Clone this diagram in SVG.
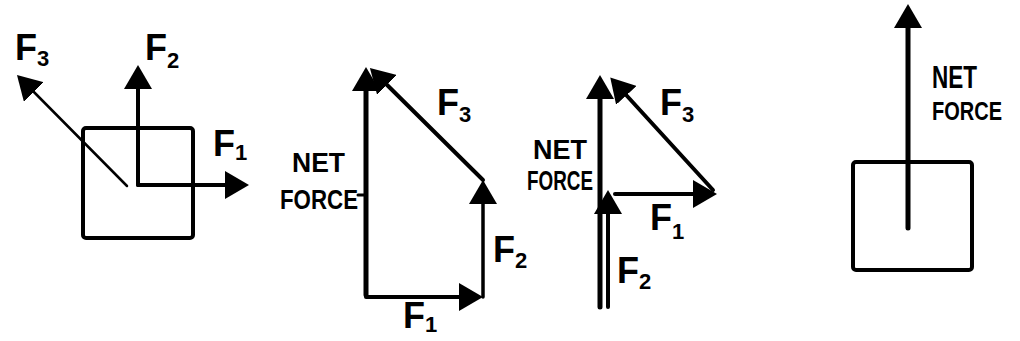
<svg xmlns="http://www.w3.org/2000/svg" width="1020" height="341" viewBox="0 0 1020 341">
<style>
.ln{stroke:#000;fill:none;stroke-linecap:round}
.box{stroke:#000;fill:none;stroke-width:4}
.lbl{font-family:"Liberation Sans",Arial,sans-serif;font-weight:bold;fill:#000}
.f{font-size:36px}
.sub{font-size:22px}
.nf{font-family:"Liberation Sans",Arial,sans-serif;fill:#000;font-size:27px;font-weight:bold}
</style>
<defs>
<marker id="head" viewBox="0 0 24 28" refX="14" refY="14" markerWidth="24" markerHeight="28" markerUnits="userSpaceOnUse" orient="auto">
<path d="M0,0 L24,14 L0,28 Z" fill="#000"/>
</marker>
</defs>
<rect width="1020" height="341" fill="#fff"/>

<g id="panel1-box"><rect class="box" x="83" y="128" width="110" height="110" rx="3"/></g>
<g id="panel4-box"><rect class="box" x="853" y="162" width="119" height="108" rx="3"/></g>

<g id="connectors">
<line class="ln" x1="138" y1="185" x2="138" y2="75" stroke-width="4" marker-end="url(#head)"/>
<line class="ln" x1="138" y1="185" x2="239" y2="185" stroke-width="4" marker-end="url(#head)"/>
<line class="ln" x1="127" y1="186" x2="24" y2="82" stroke-width="2.5" marker-end="url(#head)"/>

<line class="ln" x1="366" y1="295" x2="366" y2="77" stroke-width="5" marker-end="url(#head)"/>
<line class="ln" x1="366" y1="297" x2="473" y2="297" stroke-width="4" marker-end="url(#head)"/>
<line class="ln" x1="483" y1="297" x2="483" y2="190" stroke-width="3.5" marker-end="url(#head)"/>
<line class="ln" x1="483" y1="180" x2="377" y2="75" stroke-width="4" marker-end="url(#head)"/>
<line class="ln" x1="358" y1="195" x2="366" y2="195" stroke-width="3"/>

<line class="ln" x1="600" y1="307" x2="600" y2="85" stroke-width="5" marker-end="url(#head)"/>
<line class="ln" x1="608" y1="307" x2="608" y2="200" stroke-width="4" marker-end="url(#head)"/>
<line class="ln" x1="615" y1="194" x2="707" y2="194" stroke-width="4" marker-end="url(#head)"/>
<line class="ln" x1="713" y1="190" x2="617" y2="85" stroke-width="4" marker-end="url(#head)"/>

<line class="ln" x1="908" y1="228" x2="908" y2="14" stroke-width="5" marker-end="url(#head)"/>
</g>

<g id="labels-panel1">
<text class="lbl f" x="15" y="60">F<tspan class="sub" dy="6">3</tspan></text>
<text class="lbl f" x="145" y="60">F<tspan class="sub" dy="8">2</tspan></text>
<text class="lbl f" x="213" y="156">F<tspan class="sub" dy="4">1</tspan></text>
</g>
<g id="labels-panel2">
<text class="nf" x="292" y="172" textLength="53" lengthAdjust="spacingAndGlyphs">NET</text>
<text class="nf" x="280" y="209" textLength="78" lengthAdjust="spacingAndGlyphs">FORCE</text>
<text class="lbl f" x="437" y="115">F<tspan class="sub" dy="7">3</tspan></text>
<text class="lbl f" x="493" y="262">F<tspan class="sub" dy="6">2</tspan></text>
<text class="lbl f" x="403" y="328">F<tspan class="sub" dy="4">1</tspan></text>
</g>
<g id="labels-panel3">
<text class="nf" x="533" y="159" textLength="54" lengthAdjust="spacingAndGlyphs">NET</text>
<text class="nf" x="527" y="190" textLength="66" lengthAdjust="spacingAndGlyphs">FORCE</text>
<text class="lbl f" x="660" y="115">F<tspan class="sub" dy="7">3</tspan></text>
<text class="lbl f" x="650" y="230">F<tspan class="sub" dy="9">1</tspan></text>
<text class="lbl f" x="617" y="283">F<tspan class="sub" dy="6">2</tspan></text>
</g>
<g id="labels-panel4">
<text class="nf" x="932" y="88" textLength="45" lengthAdjust="spacingAndGlyphs" style="font-size:32px">NET</text>
<text class="nf" x="932" y="120" textLength="70" lengthAdjust="spacingAndGlyphs" style="font-size:25px">FORCE</text>
</g>
</svg>
